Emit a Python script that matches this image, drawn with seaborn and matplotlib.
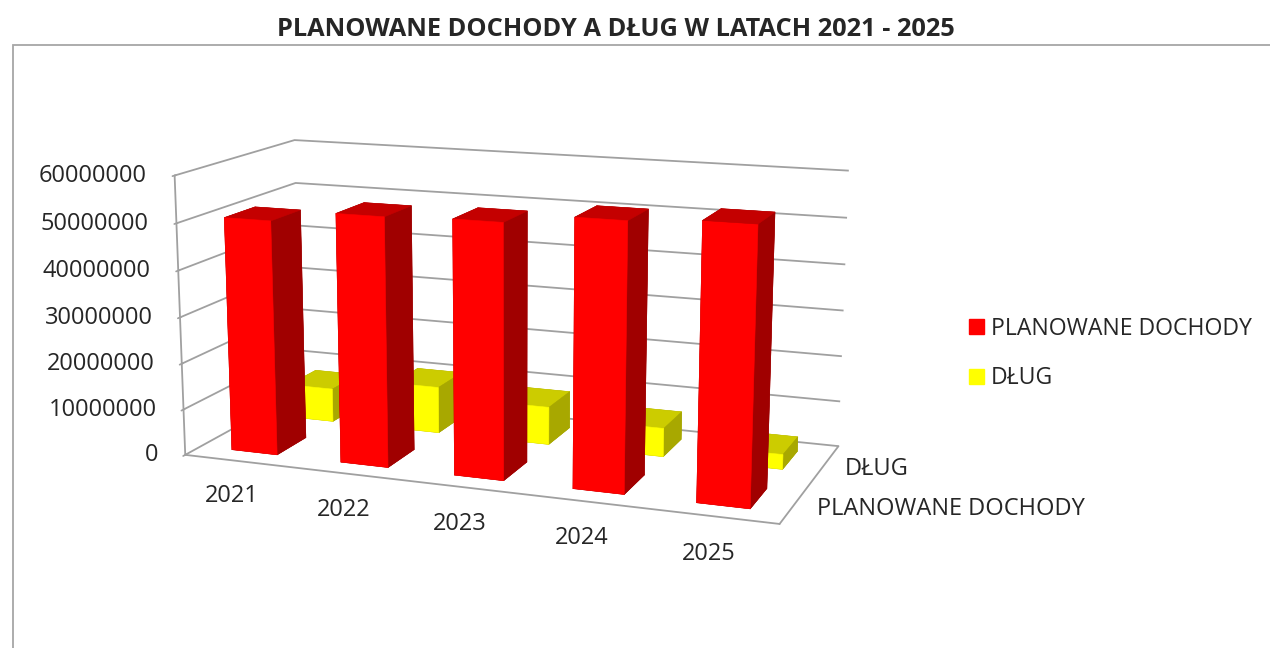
import numpy as np
import pandas as pd
import matplotlib
matplotlib.use("Agg")
import matplotlib.pyplot as plt
import seaborn as sns
from matplotlib.patches import Patch, Rectangle

# dane
years = ["2021", "2022", "2023", "2024", "2025"]
series = ["PLANOWANE DOCHODY", "DŁUG"]
dochody = [50500000, 53000000, 53500000, 55500000, 56500000]
dlug = [7500000, 10300000, 8300000, 6200000, 3200000]
z_ticks = [0, 10000000, 20000000, 30000000, 40000000, 50000000, 60000000]

# kolory: przod, gora, bok
face_cols = {
    "PLANOWANE DOCHODY": ("#FF0000", "#C40000", "#A00000"),
    "DŁUG": ("#FFFF00", "#CCCC00", "#A8A800"),
}

sns.set_theme(style="white")
plt.rcParams["font.family"] = ["Open Sans", "DejaVu Sans"]

df = pd.DataFrame({
    "rok": years * 2,
    "seria": [series[0]] * len(years) + [series[1]] * len(years),
    "wartosc": dochody + dlug,
})

bar_w = 0.42
bar_d = 0.5
df["x"] = df["rok"].map(years.index) - bar_w / 2
df["y"] = df["seria"].map(series.index) + (1 - bar_d) / 2

# kolory scian: -z, +z, -y, +y, -x, +x
colors = []
for s in df["seria"]:
    front, top, side = face_cols[s]
    colors += [side, top, front, side, side, side]

fig = plt.figure(figsize=(12.7, 6.48), dpi=100)
ax = fig.add_axes([0.008, 0.002, 0.78, 1.0], projection="3d")
ax.set_proj_type("persp", focal_length=0.58)
ax.view_init(elev=13, azim=-69.5)
ax.set_box_aspect((5.15, 2.2, 2.4), zoom=1.0826)

ax.bar3d(df["x"], df["y"], np.zeros(len(df)), bar_w, bar_d, df["wartosc"],
         color=colors, edgecolors=colors, linewidth=0.4, shade=False)

ax.set_xlim(-0.5, len(years) - 0.5)
ax.set_ylim(0, len(series))
ax.set_zlim(0, 60000000)

fs = 17
ax.set_xticks(range(len(years)))
ax.set_xticklabels(years, fontsize=fs)
ax.xaxis.set_tick_params(pad=8)
ax.set_yticks([0.5, 1.5])
ax.set_yticklabels(series, fontsize=fs, ha="left", va="baseline")
ax.yaxis.set_tick_params(pad=0)
ax.set_zticks(z_ticks)
ax.set_zticklabels([str(t) for t in z_ticks], fontsize=fs, ha="right",
                   va="center")
ax.zaxis.set_ticks_position("lower")
ax.zaxis.set_tick_params(pad=1.8)

grid_col = "#a0a0a0"
for axis in (ax.xaxis, ax.yaxis, ax.zaxis):
    axis.set_pane_color((1, 1, 1, 0))
    axis.pane.set_edgecolor("none")
    axis.line.set_color(grid_col)
    axis.line.set_linewidth(1.3)
    axis.set_tick_params(color=grid_col)
for axis in (ax.xaxis, ax.yaxis):
    axis._axinfo["grid"]["linewidth"] = 0
    axis._axinfo["tick"]["inward_factor"] = 0
    axis._axinfo["tick"]["outward_factor"] = 0
ax.zaxis._axinfo["grid"].update(color=grid_col, linewidth=1.3, linestyle="-")

fig.text(0.485, 0.954, "PLANOWANE DOCHODY A DŁUG W LATACH 2021 - 2025",
         ha="center", va="center", fontsize=18.3, fontweight="bold")

handles = [Patch(color=face_cols[s][0], label=s) for s in series]
fig.legend(handles=handles, loc="center left", bbox_to_anchor=(0.754, 0.4545),
           frameon=False, fontsize=16.6, borderpad=0, handlelength=0.63,
           handleheight=0.63, handletextpad=0.3, labelspacing=1.1)

fig.add_artist(Rectangle((13 / 1270, -0.1), 1.1, 1 - 45 / 648 + 0.1,
                         transform=fig.transFigure, fill=False,
                         edgecolor="#a6a6a6", linewidth=1.3))

fig.savefig("out.png", dpi=100)
